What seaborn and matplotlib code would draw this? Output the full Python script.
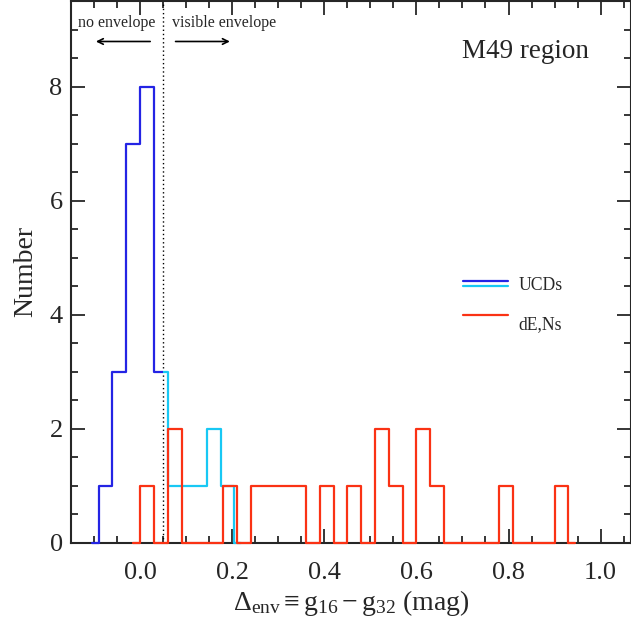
import numpy as np
import pandas as pd
import seaborn as sns
import matplotlib
matplotlib.use("Agg")
import matplotlib.pyplot as plt
from matplotlib.ticker import MultipleLocator, FormatStrFormatter

# histogram bin centres and counts (bin width 0.03 mag)
ucd_centres = [-0.105, -0.075, -0.045, -0.015, 0.015, 0.045, 0.075, 0.105,
               0.13, 0.16, 0.19, 0.22]
ucd_counts = [0, 1, 3, 7, 8, 3, 1, 1, 1, 2, 1, 0]

den_centres = [-0.015, 0.015, 0.045, 0.075, 0.105, 0.135, 0.165, 0.195,
               0.225, 0.255, 0.285, 0.315, 0.345, 0.375, 0.405, 0.435,
               0.465, 0.495, 0.525, 0.555, 0.585, 0.615, 0.645, 0.675,
               0.705, 0.735, 0.765, 0.795, 0.825, 0.855, 0.885, 0.915, 0.945]
den_counts = [0, 1, 0, 2, 0, 0, 0, 1,
              0, 1, 1, 1, 1, 0, 1, 0,
              1, 0, 2, 1, 0, 2, 1, 0,
              0, 0, 0, 1, 0, 0, 0, 1, 0]

split = 0.05  # envelope threshold

c_blue = "#2424E4"
c_cyan = "#18C8F4"
c_red = "#FA3214"

sns.set_style("ticks")
plt.rcParams['font.family'] = ['Liberation Serif', 'DejaVu Serif']
plt.rcParams['mathtext.fontset'] = 'custom'
plt.rcParams['mathtext.rm'] = 'Liberation Serif'
plt.rcParams['mathtext.it'] = 'Liberation Serif:italic'

fig = plt.figure(figsize=(6.31, 6.20), dpi=100)
ax = fig.add_axes([71/631, 77.3/620, 560/631, 541.7/620])

ucd = pd.DataFrame({'x': ucd_centres, 'n': ucd_counts})
den = pd.DataFrame({'x': den_centres, 'n': den_counts})

# UCDs: cyan past the threshold, blue before it
sns.lineplot(data=ucd, x='x', y='n', ax=ax, color=c_cyan, lw=1.6,
             drawstyle='steps-mid', estimator=None, sort=False)
sns.lineplot(data=ucd, x='x', y='n', ax=ax, color=c_blue, lw=1.6,
             drawstyle='steps-mid', estimator=None, sort=False)
sns.lineplot(data=den, x='x', y='n', ax=ax, color=c_red, lw=1.6,
             drawstyle='steps-mid', estimator=None, sort=False)

cyan_line, blue_line, red_line = ax.lines[-3:]
cyan_line.set_clip_path(plt.Rectangle((split, -1), 5, 20, transform=ax.transData))
blue_line.set_clip_path(plt.Rectangle((-5, -1), 5 + split, 20, transform=ax.transData))
red_line.set_clip_on(False)
for ln in (cyan_line, blue_line, red_line):
    ln.set_zorder(3)

ax.axvline(split, color='black', ls=(0, (1, 2)), lw=1.0)

ax.set_xlim(-0.15, 1.066)
ax.set_ylim(0, 9.5)
ax.xaxis.set_major_locator(MultipleLocator(0.2))
ax.xaxis.set_minor_locator(MultipleLocator(0.05))
ax.xaxis.set_major_formatter(FormatStrFormatter('%.1f'))
ax.yaxis.set_major_locator(MultipleLocator(2))
ax.yaxis.set_minor_locator(MultipleLocator(0.5))
ax.tick_params(which='both', direction='in', top=True, right=True, width=1.3)
ax.tick_params(which='major', length=10)
ax.tick_params(which='minor', length=5)
ax.tick_params(axis='x', which='major', labelsize=19, pad=14)
ax.tick_params(axis='y', which='major', labelsize=19, pad=6)
for s in ax.spines.values():
    s.set_linewidth(1.5)
    s.set_visible(True)

ax.set_ylabel('Number', fontsize=20, labelpad=8)
ax.set_xlabel(r'$\Delta_{\rm env} \equiv \mathrm{g}_{16} - \mathrm{g}_{32}$ (mag)',
              fontsize=20, labelpad=3)

ax.text(0.698, 8.50, 'M49 region', fontsize=19.5, ha='left', va='baseline')
ax.text(-0.134, 9.05, 'no envelope', fontsize=11.5, ha='left', va='baseline')
ax.text(0.0696, 9.05, 'visible envelope', fontsize=11.5, ha='left', va='baseline')
ax.annotate('', xy=(-0.102, 8.79), xytext=(0.028, 8.79),
            arrowprops=dict(arrowstyle='->', lw=1.2, color='black'))
ax.annotate('', xy=(0.201, 8.79), xytext=(0.071, 8.79),
            arrowprops=dict(arrowstyle='->', lw=1.2, color='black'))

# legend drawn by hand (two-colour UCD line)
ax.plot([0.7003, 0.799], [4.59, 4.59], color=c_blue, lw=1.6)
ax.plot([0.7003, 0.799], [4.50, 4.50], color=c_cyan, lw=1.6)
ax.plot([0.7003, 0.799], [4.00, 4.00], color=c_red, lw=1.6)
ax.text(0.8224, 4.44, 'UCDs', fontsize=12.7, ha='left', va='baseline')
ax.text(0.8224, 3.74, 'dE,Ns', fontsize=12.7, ha='left', va='baseline')

fig.savefig('out.png', dpi=100)
